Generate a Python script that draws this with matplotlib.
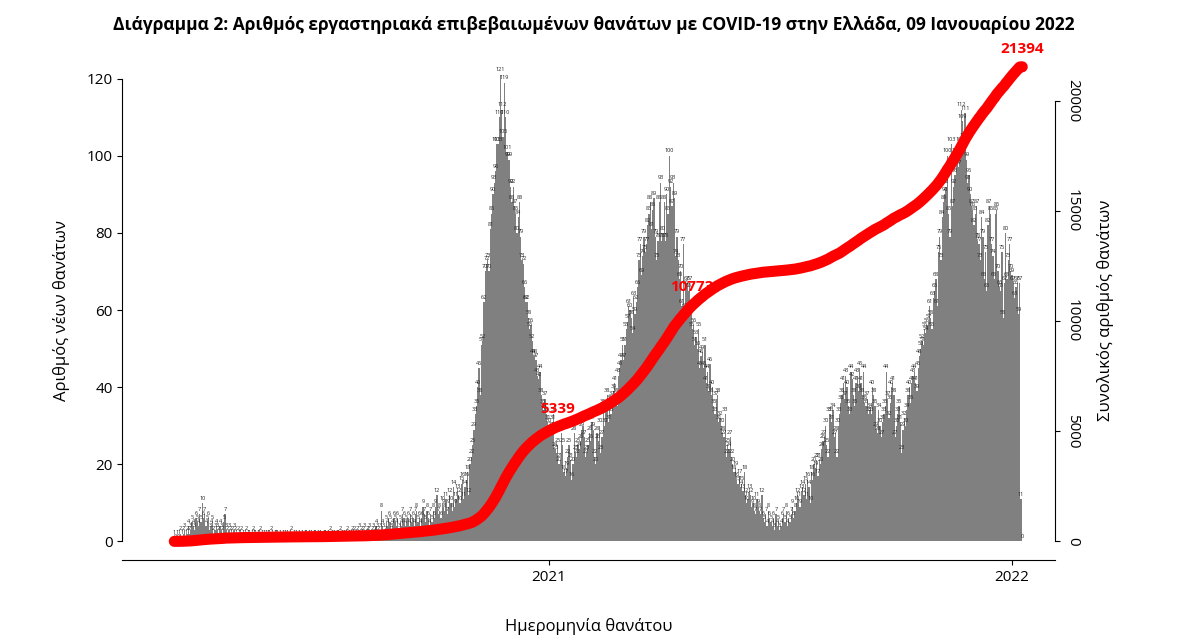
import numpy as np
import pandas as pd
import matplotlib
matplotlib.use("Agg")
import matplotlib.pyplot as plt
import matplotlib.dates as mdates

# daily deaths, per month (Mar 12 2020 .. Jan 9 2022)
m2020_03 = [1,0,1,0,1,2,1,2,3,1,2,4,2,3,5,4,3,6,5,4]
m2020_04 = [7,5,10,6,7,4,5,6,3,4,5,2,3,4,3,2,4,3,2,5,7,3,2,3,2,1,2,3,2,1]
m2020_05 = [2,1,1,2,1,0,1,2,1,1,0,1,2,1,1,0,1,1,2,1,0,1,1,0,1,1,2,1,0,1,1]
m2020_06 = [1,0,1,0,0,1,1,0,1,0,1,2,0,1,0,1,0,1,0,0,1,0,1,1,0,1,0,1,0,1]
m2020_07 = [1,0,1,0,1,0,0,1,1,0,1,0,2,1,0,1,0,1,1,0,2,1,0,1,1,2,0,1,1,2,1]
m2020_08 = [2,1,2,1,3,2,1,2,3,1,2,2,3,1,2,3,2,4,3,2,3,8,4,3,2,5,4,6,5,3,4]
m2020_09 = [6,5,4,6,3,5,4,7,6,4,5,6,4,7,5,6,4,7,8,5,6,4,6,9,7,5,8,6,4,7]
m2020_10 = [5,8,6,9,12,7,8,6,10,9,8,11,7,9,12,10,8,14,9,11,13,12,10,15,16,11,14,16,18,12,20]
m2020_11 = [22,25,29,33,35,40,45,38,51,52,62,70,72,73,70,81,85,90,93,96,103,103,110,121,112,105,119,110,101,99]
m2020_12 = [99,92,88,92,87,85,80,84,88,79,73,72,66,62,62,58,55,56,52,48,48,47,43,42,44,38,35,34,37,33,31]
m2021_01 = [30,28,29,31,33,24,23,25,20,21,28,25,18,17,19,22,25,21,16,20,28,23,22,25,24,26,29,30,27,22,23]
m2021_02 = [25,28,26,31,29,22,20,28,26,30,23,27,35,30,34,38,31,36,33,37,39,41,38,35,43,45,47,51]
m2021_03 = [47,51,55,57,61,60,58,54,63,59,62,66,73,77,69,74,79,75,77,82,85,88,81,86,89,79,73,78,88,93,78]
m2021_04 = [80,88,78,90,85,100,92,87,93,89,74,79,73,68,70,61,77,60,66,67,65,67,60,55,56,51,53,50,55,45]
m2021_05 = [48,49,45,51,41,44,39,46,38,40,35,33,37,38,31,32,30,28,27,33,22,25,24,27,22,20,18,19,16,15,17]
m2021_06 = [14,15,13,18,12,10,11,13,12,9,10,8,7,11,9,8,7,12,6,5,7,4,8,6,5,4,6,3,7,4]
m2021_07 = [5,3,4,6,7,5,8,4,6,5,7,9,6,8,10,12,11,9,13,14,12,15,11,16,14,10,18,16,20,19,21]
m2021_08 = [17,21,20,24,26,27,30,25,22,33,33,31,34,27,28,22,30,33,36,38,41,37,43,40,35,33,44,42,38,35,41]
m2021_09 = [43,39,45,41,38,44,36,35,37,33,34,33,40,38,35,29,28,34,30,27,31,33,35,44,37,32,36,40,41,38]
m2021_10 = [27,30,33,35,31,23,29,32,30,34,38,40,36,41,43,44,41,39,45,48,50,52,51,55,54,56,57,61,58,55,63]
m2021_11 = [65,68,61,75,79,73,84,88,90,92,100,85,79,103,87,92,95,100,99,97,103,112,109,104,111,99,93,95,90,87]
m2021_12 = [86,82,85,87,78,77,73,84,79,68,75,65,82,87,85,77,74,68,85,86,70,66,65,75,58,67,80,68,73,77,70]
m2022_01 = [69,67,63,66,67,59,67,11,0]

daily = np.array(m2020_03 + m2020_04 + m2020_05 + m2020_06 + m2020_07 + m2020_08 +
                 m2020_09 + m2020_10 + m2020_11 + m2020_12 + m2021_01 + m2021_02 +
                 m2021_03 + m2021_04 + m2021_05 + m2021_06 + m2021_07 + m2021_08 +
                 m2021_09 + m2021_10 + m2021_11 + m2021_12 + m2022_01)
dates = pd.date_range(end="2022-01-09", periods=len(daily), freq="D")
total = np.cumsum(daily)

curve_labels = ["5339", "10773", "21394"]
curve_dates = ["2021-01-08", "2021-04-24", "2022-01-09"]

plt.rcParams["font.family"] = "Open Sans"
fig = plt.figure(figsize=(11.87, 6.44), dpi=100)
ax = fig.add_axes([0.103, 0.130, 0.786, 0.776])

ax.bar(dates, daily, width=1.0, color="#808080", linewidth=0)
for d, v in zip(dates, daily):
    ax.text(d, v + 0.6, str(v), fontsize=4, ha="center", va="bottom", color="#222222")

ax.set_xlim(pd.Timestamp("2020-01-31"), pd.Timestamp("2022-02-04"))
ax.set_ylim(-4.9, 124.7)
ax.set_yticks([0, 20, 40, 60, 80, 100, 120])
ax.xaxis.set_major_locator(mdates.YearLocator())
ax.xaxis.set_major_formatter(mdates.DateFormatter("%Y"))
for s in ["top", "right"]:
    ax.spines[s].set_visible(False)
ax.spines["left"].set_bounds(0, 120)
ax.tick_params(labelsize=11)
ax.set_ylabel("Αριθμός νέων θανάτων", fontsize=12, labelpad=12)
ax.set_xlabel("Ημερομηνία θανάτου", fontsize=12, labelpad=24)

ax2 = ax.twinx()
ax2.plot(dates, total, color="red", lw=8, solid_capstyle="round")
ax2.set_ylim(-4.9 * 175, 124.7 * 175)
ax2.set_yticks([0, 5000, 10000, 15000, 20000])
ax2.tick_params(labelsize=11, labelrotation=-90)
for t in ax2.get_yticklabels():
    t.set_va("center")
for s in ["top", "left", "bottom"]:
    ax2.spines[s].set_visible(False)
ax2.spines["right"].set_bounds(0, 20000)
ax2.set_ylabel("Συνολικός αριθμός θανάτων", fontsize=12, labelpad=12, rotation=90)

for lab, d in zip(curve_labels, curve_dates):
    i = dates.get_loc(pd.Timestamp(d))
    ax2.text(dates[i], total[i] + 500, lab, color="red", fontsize=11, fontweight="bold",
             ha="center", va="bottom")

fig.suptitle("Διάγραμμα 2: Αριθμός εργαστηριακά επιβεβαιωμένων θανάτων με COVID-19 στην Ελλάδα, 09 Ιανουαρίου 2022",
             fontsize=12.5, fontweight="bold", y=0.975)
fig.savefig("out.png", dpi=100)
